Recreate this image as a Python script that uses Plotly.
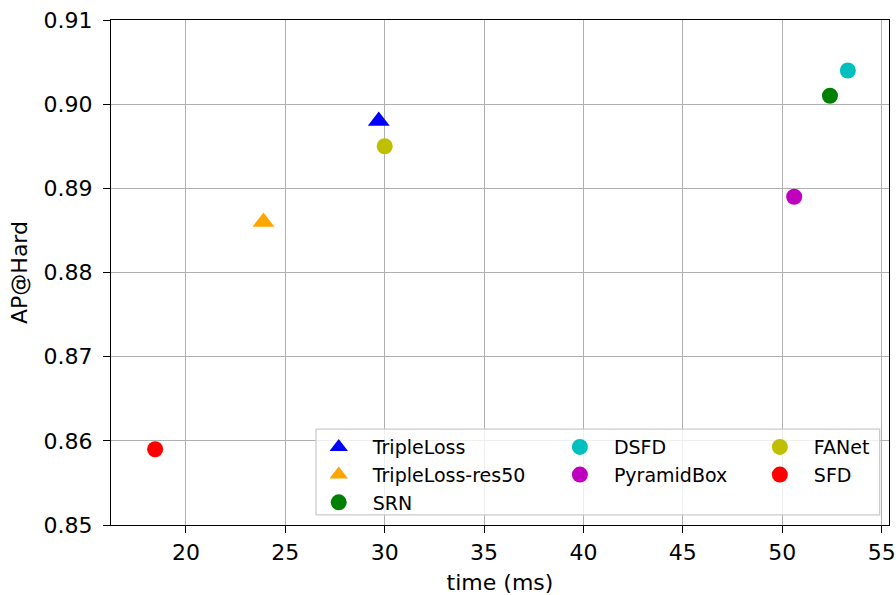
import plotly.graph_objects as go

methods = ["TripleLoss", "TripleLoss-res50", "SRN", "DSFD", "PyramidBox", "FANet", "SFD"]
time_ms = [29.7, 23.9, 52.4, 53.3, 50.6, 30.0, 18.45]
ap_hard = [0.898, 0.886, 0.901, 0.904, 0.889, 0.895, 0.859]
colors = ["#0000ff", "#ffa500", "#008000", "#00bfbf", "#bf00bf", "#bfbf00", "#ff0000"]
symbols = ["triangle-up", "triangle-up", "circle", "circle", "circle", "circle", "circle"]
legend_ids = ["legend", "legend", "legend", "legend2", "legend2", "legend3", "legend3"]

x_ticks = [20, 25, 30, 35, 40, 45, 50, 55]
y_ticks = [0.85, 0.86, 0.87, 0.88, 0.89, 0.90, 0.91]

FONT = "DejaVu Sans"
FS = 22
LFS = 19

fig = go.Figure()
for m, x, y, c, s, lg in zip(methods, time_ms, ap_hard, colors, symbols, legend_ids):
    fig.add_trace(go.Scatter(
        x=[x], y=[y], mode="markers", name=m, legend=lg,
        marker=dict(color=c, symbol=s, size=19 if s == "triangle-up" else 16, line=dict(width=0)),
    ))

leg_common = dict(font=dict(family=FONT, size=LFS, color="#000000"), bgcolor="rgba(0,0,0,0)",
                  borderwidth=0, orientation="v", xanchor="left", yanchor="top", itemwidth=58,
                  tracegroupgap=0)

axis_common = dict(showgrid=True, gridcolor="#b0b0b0", gridwidth=1,
                   showline=True, linecolor="black", linewidth=1.3, mirror=True,
                   ticks="outside", ticklen=7, tickwidth=1.3, tickcolor="black", zeroline=False,
                   automargin=False, ticklabeloverflow="allow",
                   tickfont=dict(family=FONT, size=FS, color="#000000"))

fig.update_layout(
    width=896, height=595,
    margin=dict(l=111, r=7, t=20, b=70),
    paper_bgcolor="white", plot_bgcolor="white",
    font=dict(family=FONT, size=FS, color="#000000"),
    xaxis=dict(range=[16.23, 55.37], tickvals=x_ticks, ticktext=[str(v) for v in x_ticks],
               title=dict(text="time (ms)", font=dict(family=FONT, size=FS), standoff=15),
               **axis_common),
    yaxis=dict(range=[0.85, 0.91], tickvals=y_ticks, ticktext=["%.2f" % v for v in y_ticks],
               ticklabelstandoff=6,
               title=dict(text="AP@Hard", font=dict(family=FONT, size=FS), standoff=9),
               **axis_common),
    legend=dict(x=0.249, y=0.192, **leg_common),
    legend2=dict(x=0.559, y=0.192, **leg_common),
    legend3=dict(x=0.816, y=0.192, **leg_common),
    shapes=[dict(type="rect", xref="paper", yref="paper", x0=0.2635, x1=0.988, y0=0.02, y1=0.19,
                 line=dict(color="#cccccc", width=1.3), fillcolor="rgba(255,255,255,0.8)", layer="above")],
    showlegend=True,
)

# remove the browser's default 8px body margin so the 896x595 figure fills the window
fig.write_html("out.html", config={"displayModeBar": False},
               post_script="document.body.style.margin='0';document.body.style.overflow='hidden';")
